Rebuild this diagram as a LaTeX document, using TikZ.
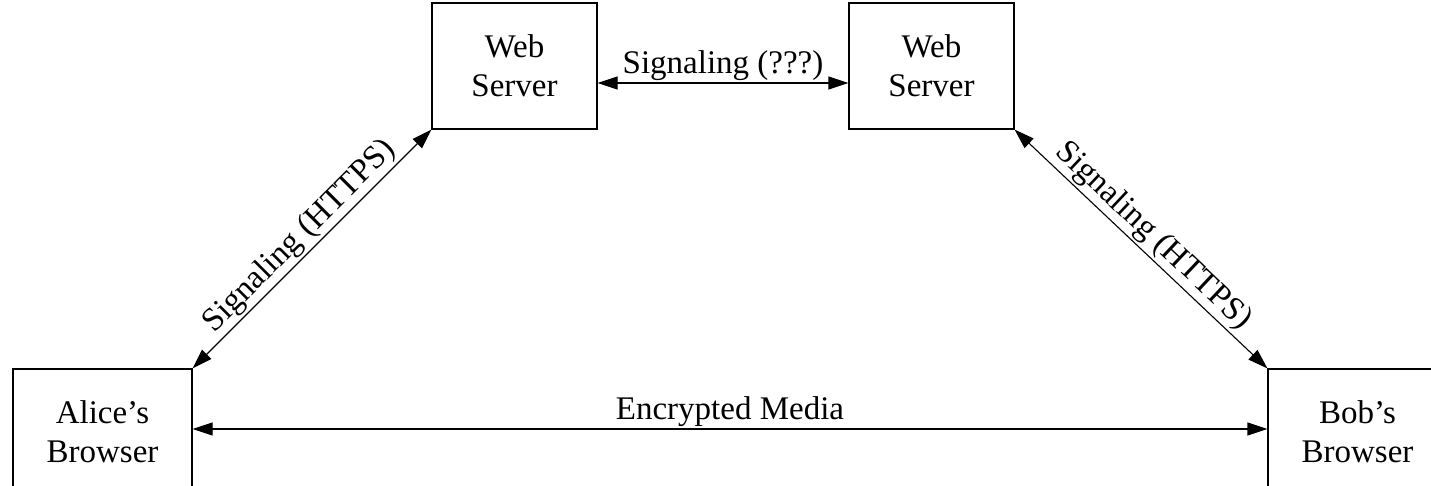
\documentclass[tikz,border=0pt]{standalone}
\usepackage{fontspec}
\setmainfont{Liberation Serif}
\usepackage{tikz}
\usetikzlibrary{arrows.meta}
\tikzset{
  box/.style={draw, line width=1.1pt, align=center, minimum height=126pt, inner sep=0pt, font=\fontsize{33}{39}\selectfont},
  link/.style={line width=1.1pt, {Triangle[length=20pt,width=13pt]}-{Triangle[length=20pt,width=13pt]}},
  lab/.style={font=\fontsize{33}{39}\selectfont, inner sep=2pt},
}
\begin{document}
\begin{tikzpicture}[x=1pt,y=-1pt]
  \useasboundingbox (0,0) rectangle (1431,486);
  \node[box, minimum width=165pt] (webL) at (514.5,66) {Web\\Server};
  \node[box, minimum width=165pt] (webR) at (931.5,66) {Web\\Server};
  \node[box, minimum width=179pt] (alice) at (102.5,432) {Alice's\\Browser};
  \node[box, minimum width=179pt] (bob) at (1357.5,432) {Bob's\\Browser};

  \draw[link] ([yshift=-17pt]webL.east) -- ([yshift=-17pt]webR.west)
    node[lab, midway, above] {Signaling (???)};
  \draw[link] (alice.north east) -- (webL.south west)
    node[lab, midway, sloped, above] {Signaling (HTTPS)};
  \draw[link] (webR.south east) -- (bob.north west)
    node[lab, midway, sloped, above] {Signaling (HTTPS)};
  \draw[link] ([yshift=3pt]alice.east) -- ([yshift=3pt]bob.west)
    node[lab, midway, above] {Encrypted Media};
\end{tikzpicture}
\end{document}
